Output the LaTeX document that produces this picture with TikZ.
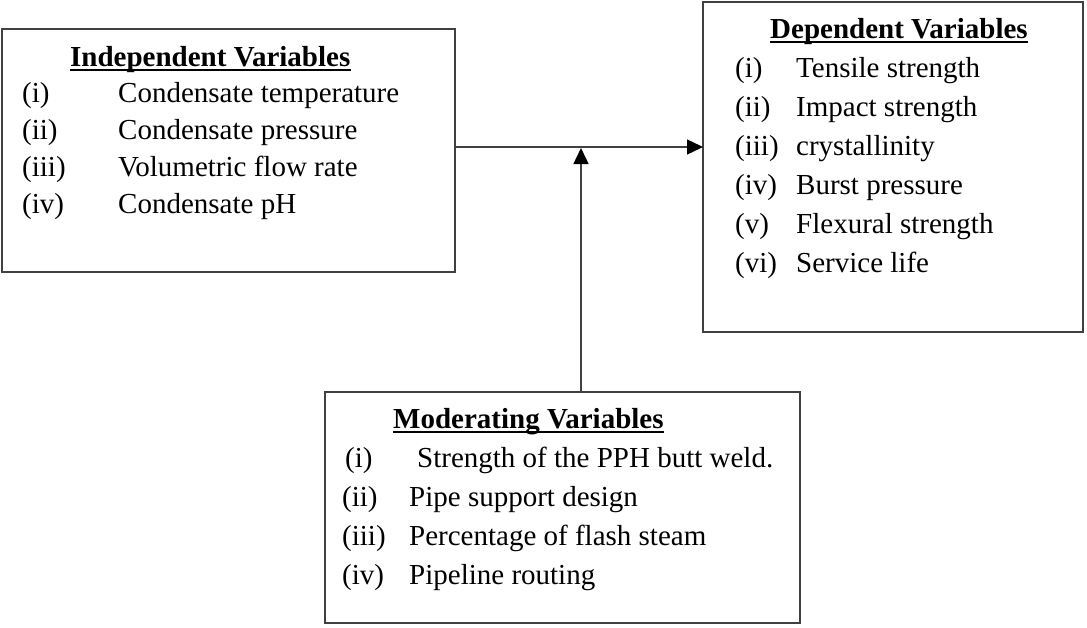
\documentclass[tikz,border=0pt]{standalone}
\usepackage{fontspec}
\setmainfont{Liberation Serif}
\usetikzlibrary{arrows.meta}
\tikzset{
  boxnode/.style={draw=black!75, line width=1.5pt, rectangle, inner sep=0pt, outer sep=0pt},
  txt/.style={inner sep=0pt, anchor=base west, font=\fontsize{29}{34}\selectfont},
  ttl/.style={txt, font=\fontsize{29}{34}\selectfont\bfseries},
  uline/.style={line width=2pt, black},
  arr/.style={draw=black!75, line width=1.4pt, -{Triangle[length=16pt,width=15pt,black]}}
}
\begin{document}
\begin{tikzpicture}[x=1pt,y=-1pt]
\useasboundingbox (0,0) rectangle (1087,627);
% boxes
\node[boxnode, anchor=north west, minimum width=453pt, minimum height=243pt] (indep) at (2,29) {};
\node[boxnode, anchor=north west, minimum width=380pt, minimum height=330pt] (dep) at (703,2) {};
\node[boxnode, anchor=north west, minimum width=475pt, minimum height=231pt] (mod) at (325,392) {};
% independent
\node[ttl] (ti) at (70,66) {Independent Variables};
\draw[uline] ([yshift=-4pt]ti.base west) -- ([yshift=-4pt]ti.base east);
\node[txt] (i1l) at (22,102) {(i)};   \node[txt] (i1) at (118,102) {Condensate temperature};
\node[txt] (i2l) at (22,139) {(ii)};  \node[txt] (i2) at (118,139) {Condensate pressure};
\node[txt] (i3l) at (22,176) {(iii)}; \node[txt] (i3) at (118,176) {Volumetric flow rate};
\node[txt] (i4l) at (22,213) {(iv)};  \node[txt] (i4) at (118,213) {Condensate pH};
% dependent
\node[ttl] (td) at (770,38) {Dependent Variables};
\draw[uline] ([yshift=-4pt]td.base west) -- ([yshift=-4pt]td.base east);
\node[txt] (d1l) at (735,77) {(i)};   \node[txt] (d1) at (796,77) {Tensile strength};
\node[txt] (d2l) at (735,116) {(ii)}; \node[txt] (d2) at (796,116) {Impact strength};
\node[txt] (d3l) at (735,155) {(iii)};\node[txt] (d3) at (796,155) {crystallinity};
\node[txt] (d4l) at (735,194) {(iv)}; \node[txt] (d4) at (796,194) {Burst pressure};
\node[txt] (d5l) at (735,233) {(v)};  \node[txt] (d5) at (796,233) {Flexural strength};
\node[txt] (d6l) at (735,272) {(vi)}; \node[txt] (d6) at (796,272) {Service life};
% moderating
\node[ttl] (tm) at (393,428) {Moderating Variables};
\draw[uline] ([yshift=-4pt]tm.base west) -- ([yshift=-4pt]tm.base east);
\node[txt] (m1l) at (345,467) {(i)};   \node[txt] (m1) at (417,467) {Strength of the PPH butt weld.};
\node[txt] (m2l) at (342,506) {(ii)};  \node[txt] (m2) at (409,506) {Pipe support design};
\node[txt] (m3l) at (342,545) {(iii)}; \node[txt] (m3) at (409,545) {Percentage of flash steam};
\node[txt] (m4l) at (342,584) {(iv)};  \node[txt] (m4) at (409,584) {Pipeline routing};
% connectors
\coordinate (meet) at (581,148);
\draw[arr] (indep.east |- 0,147) -- (dep.west |- 0,147);
\draw[arr] (mod.north -| meet) -- (meet);
\end{tikzpicture}
\end{document}
